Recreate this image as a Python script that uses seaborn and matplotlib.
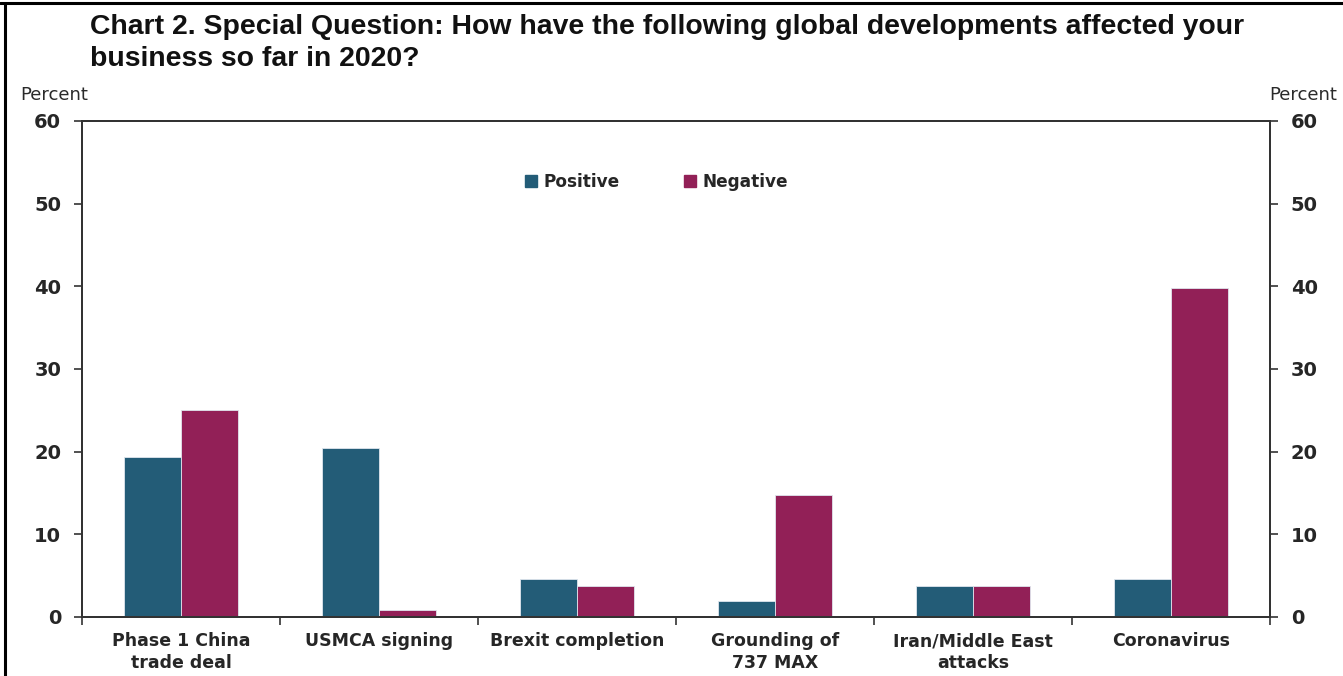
import matplotlib
matplotlib.use("Agg")
import matplotlib.pyplot as plt
import seaborn as sns
import pandas as pd
import numpy as np
from matplotlib.lines import Line2D

categories = ["Phase 1 China\ntrade deal", "USMCA signing", "Brexit completion",
              "Grounding of\n737 MAX", "Iran/Middle East\nattacks", "Coronavirus"]
positive = [19.4, 20.4, 4.6, 1.9, 3.7, 4.6]
negative = [25.0, 0.9, 3.7, 14.8, 3.7, 39.8]
series_names = ["Positive", "Negative"]
series_colors = ["#235C77", "#922057"]
y_ticks = [0, 10, 20, 30, 40, 50, 60]

df = pd.DataFrame({
    "category": categories * 2,
    "series": [series_names[0]] * len(categories) + [series_names[1]] * len(categories),
    "value": positive + negative,
})

sns.set_theme(style="white")
plt.rcParams["font.family"] = ["Liberation Sans", "DejaVu Sans"]

W, H = 1343, 676
fig = plt.figure(figsize=(W / 100, H / 100), dpi=100)
ax = fig.add_axes([82 / W, 1 - 617 / H, (1270 - 82) / W, (617 - 121) / H])

sns.barplot(data=df, x="category", y="value", hue="series", order=categories,
            hue_order=series_names, palette=series_colors, width=0.576, gap=0,
            saturation=1, edgecolor="#dfe6ee", linewidth=0.6, ax=ax, legend=False)

ax.set_xlim(-0.5, len(categories) - 0.5)
ax.set_ylim(0, 60)
ax.set_xlabel("")
ax.set_ylabel("")
for s in ax.spines.values():
    s.set_color("#333333")
    s.set_linewidth(1.4)
    s.set_visible(True)

ax.set_yticks(y_ticks)
ax.set_yticklabels([str(t) for t in y_ticks])
ax.tick_params(axis="y", which="major", direction="out", length=6, width=1.2,
               color="#333333", left=True, labelsize=14, pad=9)
for lbl in ax.get_yticklabels():
    lbl.set_fontweight("bold")
    lbl.set_family(["DejaVu Sans"])

ax.set_xticks(range(len(categories)))
ax.set_xticklabels(categories, fontsize=12.5, fontweight="bold", linespacing=1.25)
ax.tick_params(axis="x", which="major", length=0, pad=11, bottom=True)
ax.set_xticks(np.arange(-0.5, len(categories), 1.0), minor=True)
ax.tick_params(axis="x", which="minor", direction="out", length=6, width=1.2,
               color="#333333", bottom=True)
for lbl in ax.get_xticklabels():
    lbl.set_family(["DejaVu Sans"])

ax2 = ax.twinx()
ax2.set_ylim(0, 60)
ax2.set_yticks(y_ticks)
ax2.set_yticklabels([str(t) for t in y_ticks])
ax2.tick_params(axis="y", direction="out", length=6, width=1.2, color="#333333",
                right=True, labelsize=14, pad=9)
for lbl in ax2.get_yticklabels():
    lbl.set_fontweight("bold")
    lbl.set_family(["DejaVu Sans"])
for s in ax2.spines.values():
    s.set_color("#333333")
    s.set_linewidth(1.4)
ax2.grid(False)
ax.grid(False)

handles = [Line2D([0], [0], marker="s", linestyle="none", markersize=9,
                  markerfacecolor=c, markeredgecolor=c) for c in series_colors]
ax.legend(handles, series_names, loc="center", bbox_to_anchor=(0.483, 0.877),
          ncol=2, frameon=False, handletextpad=0.3, columnspacing=3.7,
          handlelength=0.9,
          prop={"family": "DejaVu Sans", "weight": "bold", "size": 12.2})

fig.text(90 / W, 1 - 43 / H,
         "Chart 2. Special Question: How have the following global developments affected your\nbusiness so far in 2020?",
         ha="left", va="center", fontsize=20.4, fontweight="bold", color="#111111",
         linespacing=1.3)
fig.text(20 / W, 1 - 95 / H, "Percent", ha="left", va="center", fontsize=13,
         color="#2a2a2a", family=["DejaVu Sans"])
fig.text(1337 / W, 1 - 95 / H, "Percent", ha="right", va="center", fontsize=13,
         color="#2a2a2a", family=["DejaVu Sans"])

# page frame (top and left edge of the clipped slide)
fig.add_artist(Line2D([0, 1], [1 - 3 / H, 1 - 3 / H], transform=fig.transFigure, color="black", lw=2.2))
fig.add_artist(Line2D([5 / W, 5 / W], [0, 1 - 3 / H], transform=fig.transFigure, color="black", lw=2.2))

fig.savefig("out.png", dpi=100, facecolor="white")
